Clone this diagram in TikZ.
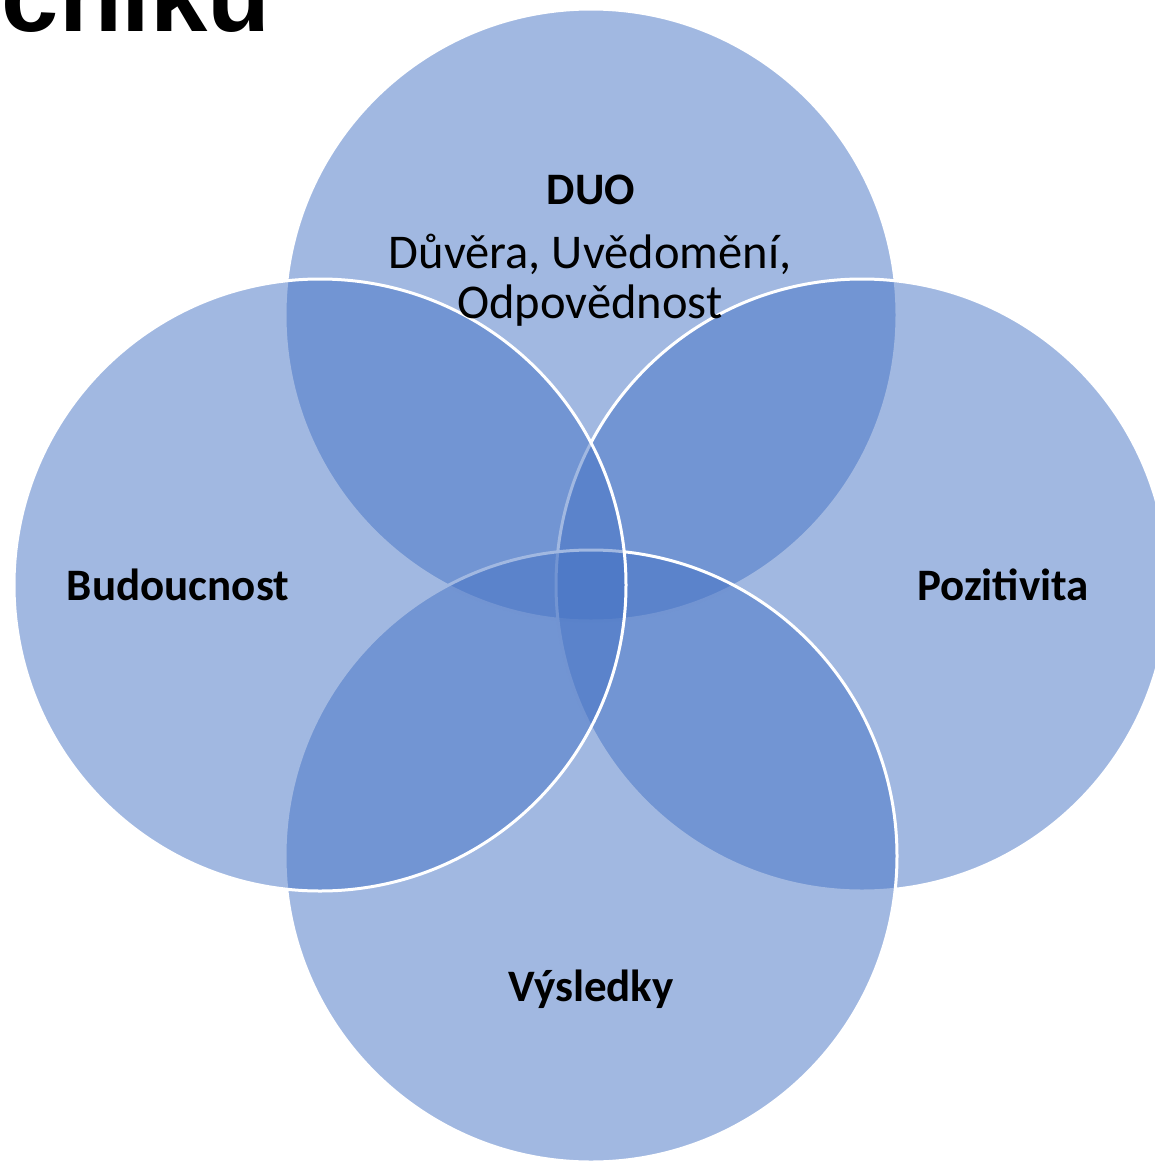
\documentclass[tikz,border=0pt]{standalone}
\usepackage{fontspec}
\setmainfont{Carlito}
\newfontfamily\headfont{Liberation Sans}
\usepackage{tikz}
\definecolor{accent}{RGB}{68,114,196}

\begin{document}
\begin{tikzpicture}[
  x=1pt, y=-1pt,
  ring/.style={circle, draw=white, line width=3pt, fill=accent,
               fill opacity=0.5, minimum size=612pt, inner sep=0pt},
  lbl/.style={anchor=base, inner sep=0pt,
              font=\fontsize{48.5}{54}\selectfont},
  blbl/.style={lbl, font=\bfseries\fontsize{45}{50}\selectfont}]
\clip (0,0) rectangle (1155,1162);
\useasboundingbox (0,0) rectangle (1155,1162);
% page heading, cut by the frame
\node[anchor=base east, inner sep=0pt, font=\headfont\bfseries\fontsize{103}{110}\selectfont] (head) at (271,31) {čníku};
% the four rings
\node[ring] (duo) at (591,315) {};
\node[ring] (poz) at (862,585) {};
\node[ring] (vys) at (591,856) {};
\node[ring] (bud) at (320,585) {};
% labels
\node[blbl] (tduo) at (591,204) {DUO};
\node[lbl] (tduo2) at (590,268) {Důvěra, Uvědomění,};
\node[lbl] (tduo3) at (590,318) {Odpovědnost};
\node[blbl] (tbud) at (178,600) {Budoucnost};
\node[blbl] (tpoz) at (1003,600) {Pozitivita};
\node[blbl] (tvys) at (591,1001) {Výsledky};
\end{tikzpicture}
\end{document}
